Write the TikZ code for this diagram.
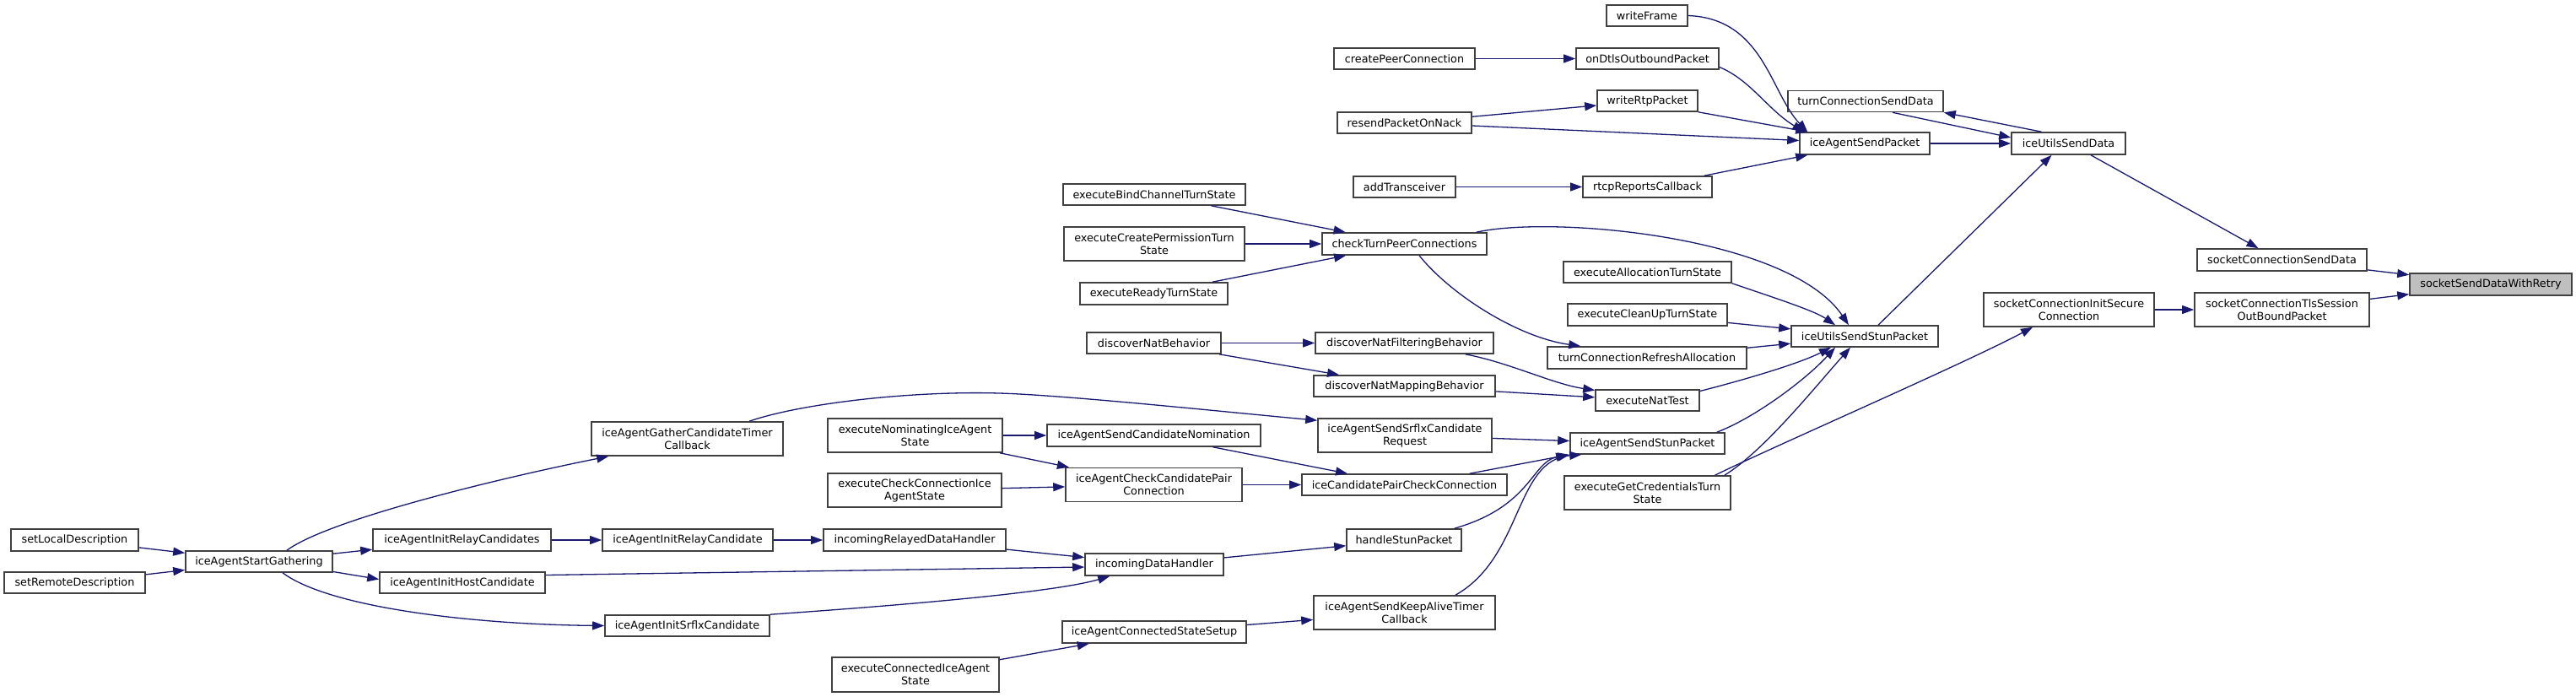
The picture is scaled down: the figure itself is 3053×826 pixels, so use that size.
\documentclass[tikz,border=0pt]{standalone}
\usepackage{fontspec}
\setmainfont{DejaVu Sans}
\usetikzlibrary{arrows.meta}
\definecolor{edgeblue}{HTML}{191970}
\definecolor{nodeline}{HTML}{404040}
\definecolor{mainfill}{HTML}{BFBFBF}
\tikzset{
 box/.style={draw=nodeline, line width=1.6pt, fill=white, inner sep=0pt, align=center, font=\fontsize{12.8}{15}\selectfont},
 mainbox/.style={fill=mainfill},
 edge/.style={draw=edgeblue, line width=1.3pt, -{Triangle[length=14pt,width=10pt]}}
}
\newcommand\nbox[7][]{\node[box,#1,minimum width=#5pt,minimum height=#6pt] (#2) at (#3,#4) {#7};}
\begin{document}
\begin{tikzpicture}[x=1pt,y=-1pt]
\fill[white] (0,0) rectangle (3053,826);
\useasboundingbox (0,0) rectangle (3053,826);

\nbox[mainbox]{sSDWR}{2952}{337}{192}{26}{socketSendDataWithRetry}
\nbox{sCSD}{2704.5}{308}{201}{26}{socketConnectionSendData}
\nbox{sCTLS}{2704.5}{367}{207}{40}{socketConnectionTlsSession\\OutBoundPacket}
\nbox{sCIS}{2452}{367}{202}{40}{socketConnectionInitSecure\\Connection}
\nbox{iUSD}{2451.5}{170}{135}{26}{iceUtilsSendData}
\nbox{tCSD}{2211}{120}{184}{25}{turnConnectionSendData}
\nbox{iASP}{2210}{170}{154}{26}{iceAgentSendPacket}
\nbox{iUSSP}{2210}{398.5}{174}{25}{iceUtilsSendStunPacket}
\nbox{wF}{1952}{18.5}{96}{25}{writeFrame}
\nbox{oDOP}{1952.5}{69.5}{169}{25}{onDtlsOutboundPacket}
\nbox{cPC}{1664.5}{69.5}{167}{25}{createPeerConnection}
\nbox{wRP}{1952.5}{119.5}{119}{25}{writeRtpPacket}
\nbox{rPON}{1664.5}{145.5}{159}{25}{resendPacketOnNack}
\nbox{aT}{1664.5}{221.5}{121}{25}{addTransceiver}
\nbox{rRC}{1952.5}{221.5}{153}{25}{rtcpReportsCallback}
\nbox{eBCTS}{1368}{230.5}{216}{25}{executeBindChannelTurnState}
\nbox{eCPTS}{1368}{289}{214}{40}{executeCreatePermissionTurn\\State}
\nbox{cTPC}{1664.5}{289}{195}{26}{checkTurnPeerConnections}
\nbox{eRTS}{1367.5}{348}{175}{26}{executeReadyTurnState}
\nbox{eATS}{1952.5}{322.5}{199}{25}{executeAllocationTurnState}
\nbox{eCUTS}{1952.5}{373}{189}{26}{executeCleanUpTurnState}
\nbox{tCRA}{1952}{424}{236}{26}{turnConnectionRefreshAllocation}
\nbox{dNB}{1367.5}{406.5}{159}{25}{discoverNatBehavior}
\nbox{dNFB}{1664.5}{406.5}{211}{25}{discoverNatFilteringBehavior}
\nbox{dNMB}{1664.5}{457.5}{215}{25}{discoverNatMappingBehavior}
\nbox{eNT}{1952.5}{474.5}{123}{25}{executeNatTest}
\nbox{iAGCTC}{814.5}{520}{227}{40}{iceAgentGatherCandidateTimer\\Callback}
\nbox{eNIAS}{1084.5}{516}{207}{40}{executeNominatingIceAgent\\State}
\nbox{iASCN}{1367.5}{516}{253}{26}{iceAgentSendCandidateNomination}
\nbox{iASSCR}{1665}{516}{206}{40}{iceAgentSendSrflxCandidate\\Request}
\nbox{iASTP}{1952.5}{525.5}{183}{25}{iceAgentSendStunPacket}
\nbox{eCCIAS}{1084}{581}{206}{40}{executeCheckConnectionIce\\AgentState}
\nbox{iACCPC}{1367.5}{574.5}{209}{40}{iceAgentCheckCandidatePair\\Connection}
\nbox{iCPCC}{1664.5}{574.5}{243}{25}{iceCandidatePairCheckConnection}
\nbox{eGCTS}{1952.5}{584}{197}{40}{executeGetCredentialsTurn\\State}
\nbox{sLD}{88.5}{640}{151}{26}{setLocalDescription}
\nbox{sRD}{88.5}{690.5}{167}{25}{setRemoteDescription}
\nbox{iASG}{307}{665.5}{174}{25}{iceAgentStartGathering}
\nbox{iAIRCs}{547.5}{640}{211}{26}{iceAgentInitRelayCandidates}
\nbox{iAIHC}{548}{690.5}{196}{25}{iceAgentInitHostCandidate}
\nbox{iAIRC}{815}{640}{202}{26}{iceAgentInitRelayCandidate}
\nbox{iAISC}{814.5}{741.5}{195}{25}{iceAgentInitSrflxCandidate}
\nbox{iRDH}{1084}{640}{216}{26}{incomingRelayedDataHandler}
\nbox{hSP}{1664}{640}{136}{26}{handleStunPacket}
\nbox{iDH}{1368}{669}{164}{26}{incomingDataHandler}
\nbox{iASKATC}{1664.5}{726}{215}{40}{iceAgentSendKeepAliveTimer\\Callback}
\nbox{iACSS}{1368}{749}{218}{26}{iceAgentConnectedStateSetup}
\nbox{eCIAS}{1085}{799.5}{198}{41}{executeConnectedIceAgent\\State}

\draw[edge] (sCSD) -- (sSDWR);
\draw[edge] (sCTLS) -- (sSDWR);
\draw[edge] ([xshift=26.5pt]iUSD.south) -- ([xshift=-28pt]sCSD.north);
\draw[edge] (sCIS) -- (sCTLS);
\draw[edge] ([xshift=80pt]eGCTS.north) .. controls (2100,530) and (2330,430) .. ([xshift=-43pt]sCIS.south);
\draw[edge] (iASP) -- (iUSD);
\draw[edge] ([xshift=32pt]tCSD.south) -- ([yshift=7pt]iUSD.west);
\draw[edge] ([xshift=-32pt]iUSD.north) -- (tCSD.south east);
\draw[edge] ([xshift=16pt]iUSSP.north) -- ([xshift=-20pt]iUSD.south);
\draw[edge] (wF.east) .. controls (2090,22) and (2098,110) .. ([xshift=10pt]iASP.north west);
\draw[edge] ([yshift=-10pt]oDOP.east) .. controls (2075,95) and (2095,130) .. ([xshift=6pt]iASP.north west);
\draw[edge] (wRP.south east) -- ([xshift=10pt]iASP.north west);
\draw[edge] ([yshift=-3.5pt]rPON.east) -- ([yshift=3.5pt]iASP.west);
\draw[edge] ([xshift=-10pt]rRC.north east) -- ([xshift=10pt]iASP.south west);
\draw[edge] (cPC) -- (oDOP);
\draw[edge] (rPON) -- (wRP);
\draw[edge] (aT) -- (rRC);
\draw[edge] ([xshift=-13pt]cTPC.north east) .. controls (1840,255) and (2120,280) .. ([xshift=-19pt]iUSSP.north);
\draw[edge] (eATS.south east) .. controls (2100,352) and (2150,368) .. ([xshift=-35pt]iUSSP.north);
\draw[edge] (eCUTS) -- (iUSSP);
\draw[edge] (tCRA) -- (iUSSP);
\draw[edge] ([yshift=11pt]eNT.east) .. controls (2060,452) and (2130,432) .. ([xshift=-40pt]iUSSP.south);
\draw[edge] ([xshift=-10pt]iASTP.north east) .. controls (2080,495) and (2140,450) .. ([xshift=-35pt]iUSSP.south);
\draw[edge] ([xshift=-8pt]eGCTS.north east) .. controls (2090,535) and (2150,460) .. ([xshift=-17pt]iUSSP.south);
\draw[edge] (eBCTS) -- (cTPC);
\draw[edge] (eCPTS) -- (cTPC);
\draw[edge] (eRTS) -- (cTPC);
\draw[edge] ([xshift=17.5pt]cTPC.south) .. controls (1720,350) and (1800,400) .. ([xshift=40pt]tCRA.north west);
\draw[edge] (dNB) -- (dNFB);
\draw[edge] (dNB) -- (dNMB);
\draw[edge] ([xshift=-34pt]dNFB.south east) .. controls (1790,430) and (1840,455) .. ([yshift=12pt]eNT.west);
\draw[edge] (dNMB) -- (eNT);
\draw[edge] ([xshift=73.5pt]iAGCTC.north) .. controls (950,478) and (1080,463) .. (1184,466) .. controls (1260,468) and (1450,488) .. ([yshift=-3pt]iASSCR.north west);
\draw[edge] (iASSCR) -- (iASTP);
\draw[edge] ([xshift=-45pt]iCPCC.north east) -- (iASTP.south west);
\draw[edge] ([xshift=-9pt]hSP.north east) .. controls (1815,600) and (1815,548) .. ([xshift=-2pt]iASTP.south west);
\draw[edge] ([xshift=60.5pt]iASKATC.north) .. controls (1805,660) and (1795,545) .. ([xshift=14pt]iASTP.south west);
\draw[edge] (eNIAS) -- (iASCN);
\draw[edge] (eNIAS) -- (iACCPC);
\draw[edge] (eCCIAS) -- (iACCPC);
\draw[edge] (iASCN) -- (iCPCC);
\draw[edge] (iACCPC) -- (iCPCC);
\draw[edge] ([xshift=33pt]iASG.north) .. controls (390,615) and (600,565) .. ([xshift=21pt]iAGCTC.south west);
\draw[edge] ([xshift=28pt]iASG.south) .. controls (390,720) and (560,740) .. (iAISC.west);
\draw[edge] (sLD) -- (iASG);
\draw[edge] (sRD) -- (iASG);
\draw[edge] (iASG) -- (iAIRCs);
\draw[edge] ([yshift=-12pt]iASG.east) -- ([yshift=4pt]iAIHC.west);
\draw[edge] (iAIRCs) -- (iAIRC);
\draw[edge] (iAIRC) -- (iRDH);
\draw[edge] (iRDH) -- (iDH);
\draw[edge] ([yshift=9pt]iAIHC.east) -- ([yshift=-3pt]iDH.west);
\draw[edge] (iAISC.north east) .. controls (1000,722) and (1240,705) .. ([xshift=30pt]iDH.south west);
\draw[edge] (iDH) -- (hSP);
\draw[edge] (eCIAS) -- (iACSS);
\draw[edge] (iACSS) -- (iASKATC);
\end{tikzpicture}
\end{document}
